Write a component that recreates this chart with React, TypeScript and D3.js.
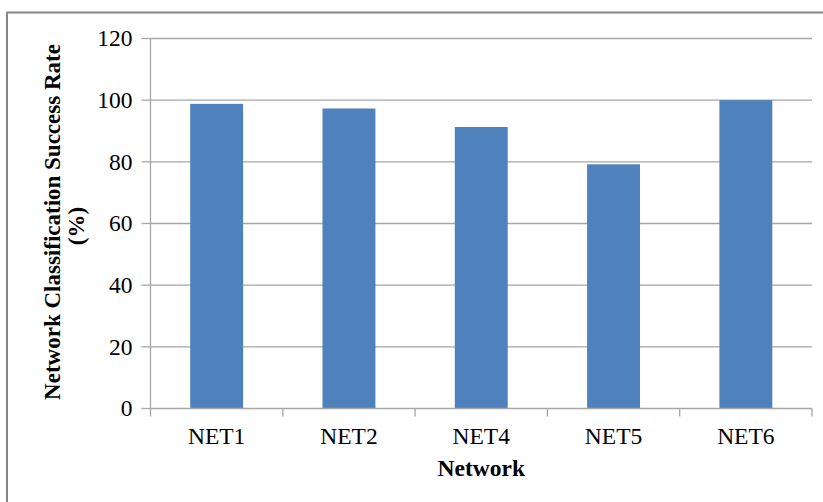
import React from "react";
import * as d3 from "d3";

const categories = ["NET1", "NET2", "NET4", "NET5", "NET6"];
const values = [98.8, 97.3, 91.3, 79.2, 100];
const yTicks = [0, 20, 40, 60, 80, 100, 120];

export default function App() {
  const W = 823, H = 502;
  const left = 150.5, right = 812, top = 38.5, bottom = 408.5;
  const x = d3.scaleBand<string>().domain(categories).range([left, right]).paddingInner(0.6).paddingOuter(0.3);
  const xb = d3.scaleBand<string>().domain(categories).range([left, right]);
  const y = d3.scaleLinear().domain([0, 120]).range([bottom, top]);
  const font = "'Liberation Serif', 'Times New Roman', serif";
  const grid = "#a6a6a6";
  return (
    <svg width={W} height={H} style={{ position: "absolute", left: 0, top: 0 }} fontFamily={font}>
      <rect x={0} y={0} width={W} height={H} fill="#fff" />
      <rect x={7} y={12.5} width={W + 10} height={H + 10} fill="none" stroke="#868686" strokeWidth={2} />
      {yTicks.map((t) => (
        <g key={t}>
          {t > 0 && <line x1={left} x2={right} y1={y(t)} y2={y(t)} stroke={grid} strokeWidth={1.3} />}
          <line x1={left - 9} x2={left} y1={y(t)} y2={y(t)} stroke={grid} strokeWidth={1.3} />
          <text x={left - 18} y={y(t)} dy="0.33em" textAnchor="end" fontSize={23.5} fill="#000">{t}</text>
        </g>
      ))}
      {categories.map((c, i) => (
        <rect key={c} x={x(c)} y={y(values[i])} width={x.bandwidth()} height={bottom - y(values[i])} fill="#4f81bd" />
      ))}
      <line x1={left} x2={left} y1={top} y2={bottom} stroke={grid} strokeWidth={1.3} />
      <line x1={left} x2={right} y1={bottom} y2={bottom} stroke={grid} strokeWidth={1.3} />
      {categories.map((c) => (
        <line key={c} x1={(xb(c) as number) + xb.bandwidth()} x2={(xb(c) as number) + xb.bandwidth()} y1={bottom} y2={bottom + 8} stroke={grid} strokeWidth={1.3} />
      ))}
      <line x1={left} x2={left} y1={bottom} y2={bottom + 8} stroke={grid} strokeWidth={1.3} />
      {categories.map((c) => (
        <text key={c} x={(xb(c) as number) + xb.bandwidth() / 2} y={444} textAnchor="middle" fontSize={23.5} fill="#000">{c}</text>
      ))}
      <text x={(left + right) / 2} y={476} textAnchor="middle" fontSize={23.5} fontWeight="bold" fill="#000">Network</text>
      <text transform="translate(60,222) rotate(-90)" textAnchor="middle" fontSize={23} fontWeight="bold" fill="#000">Network Classification Success Rate</text>
      <text transform="translate(84,226) rotate(-90)" textAnchor="middle" fontSize={23} fontWeight="bold" fill="#000">(%)</text>
    </svg>
  );
}
